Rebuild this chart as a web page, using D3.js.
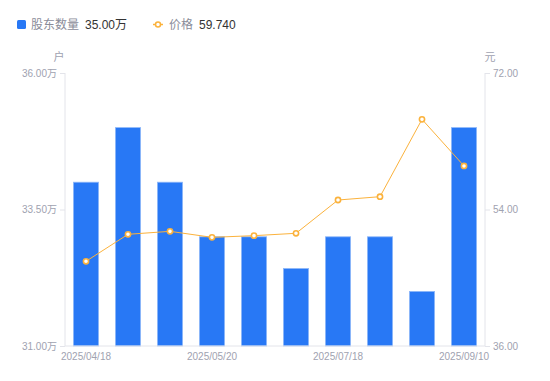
<!DOCTYPE html>
<html><head><meta charset="utf-8">
<script src="https://cdn.jsdelivr.net/npm/d3@7/dist/d3.min.js"></script>
<style>body{margin:0;background:#fff;font-family:"Noto Sans CJK SC","Noto Sans",sans-serif;}</style>
</head><body><svg id="c" width="550" height="381"></svg>
<script>
const categories = ["2025/04/18","2025/04/30","2025/05/09","2025/05/20","2025/06/10","2025/06/30","2025/07/18","2025/07/31","2025/08/20","2025/09/10"];
const holders = [34.00, 35.00, 34.00, 33.00, 33.00, 32.42, 33.00, 33.00, 32.00, 35.00];
const prices = [47.17, 50.73, 51.12, 50.33, 50.55, 50.86, 55.25, 55.69, 65.89, 59.74];
const leftTicks = [31, 33.5, 36];
const rightTicks = [36, 54, 72];
const shownLabels = ["2025/04/18","2025/05/20","2025/07/18","2025/09/10"];

const svg = d3.select("#c");
const L = 65, R = 485, T = 73, B = 346;
const x = d3.scaleBand().domain(categories).range([L, R]).paddingInner(0.4).paddingOuter(0.2);
const yL = d3.scaleLinear().domain([31, 36]).range([B, T]);
const yR = d3.scaleLinear().domain([36, 72]).range([B, T]);
const axisCol = "#e3e4ea", txtCol = "#a0a2b0";
const font = "'Liberation Sans', Arial, 'Noto Sans CJK SC', sans-serif";

// bars
svg.append("g").selectAll("rect").data(holders).join("rect")
  .attr("x", (d,i)=>x(categories[i]))
  .attr("y", d=>yL(d))
  .attr("width", x.bandwidth())
  .attr("height", d=>B - yL(d))
  .attr("fill", "#2878f5")
  .attr("stroke", "#8fb8f9").attr("stroke-width", 0.8);

// axes
const gl = svg.append("g").attr("transform", `translate(${L},0)`)
  .call(d3.axisLeft(yL).tickValues(leftTicks).tickSize(5).tickPadding(3).tickFormat(d=>d3.format(".2f")(d)+"万"));
const gr = svg.append("g").attr("transform", `translate(${R},0)`)
  .call(d3.axisRight(yR).tickValues(rightTicks).tickSize(5).tickPadding(3).tickFormat(d3.format(".2f")));
const gb = svg.append("g").attr("transform", `translate(0,${B})`)
  .call(d3.axisBottom(x).tickValues(shownLabels).tickSize(0).tickPadding(7));
[gl, gr, gb].forEach(g=>{
  g.select(".domain").attr("stroke", axisCol);
  g.selectAll(".tick line").attr("stroke", axisCol);
  g.selectAll(".tick text").attr("fill", txtCol).style("font-family", font).style("font-size", "10px");
});
gl.select(".domain").attr("d", `M0,${T}V${B}`);
gr.select(".domain").attr("d", `M0,${T}V${B}`);
gb.select(".domain").attr("d", `M${L},0H${R}`);

// unit labels
svg.append("text").attr("x", 59).attr("y", 61).attr("text-anchor","middle").attr("fill", txtCol).style("font-size","11px").text("户");
svg.append("text").attr("x", 490).attr("y", 61).attr("text-anchor","middle").attr("fill", txtCol).style("font-size","11px").text("元");

// line
const lineCol = "#fbb23c";
const line = d3.line().x((d,i)=>x(categories[i]) + x.bandwidth()/2).y(d=>yR(d));
svg.append("path").datum(prices).attr("d", line).attr("fill","none").attr("stroke", lineCol).attr("stroke-width", 1);
svg.append("g").selectAll("circle").data(prices).join("circle")
  .attr("cx", (d,i)=>x(categories[i]) + x.bandwidth()/2)
  .attr("cy", d=>yR(d)).attr("r", 2.6)
  .attr("fill", "#fff").attr("stroke", lineCol).attr("stroke-width", 1.6);

// legend
const lg = svg.append("g");
lg.append("rect").attr("x", 17).attr("y", 20).attr("width", 9).attr("height", 9).attr("rx", 1.5).attr("fill", "#2878f5");
lg.append("text").attr("x", 31).attr("y", 29).attr("fill", "#8a8c99").style("font-size","12px").text("股东数量");
lg.append("text").attr("x", 85).attr("y", 29).attr("fill", "#333").style("font-family", font).style("font-size","12px").text(d3.format(".2f")(holders[holders.length-1])+"万");
lg.append("line").attr("x1", 153).attr("x2", 163).attr("y1", 24.5).attr("y2", 24.5).attr("stroke", lineCol).attr("stroke-width", 1.5);
lg.append("circle").attr("cx", 158).attr("cy", 24.5).attr("r", 2.5).attr("fill", "#fff").attr("stroke", lineCol).attr("stroke-width", 1.5);
lg.append("text").attr("x", 169).attr("y", 29).attr("fill", "#8a8c99").style("font-size","12px").text("价格");
lg.append("text").attr("x", 199).attr("y", 29).attr("fill", "#333").style("font-family", font).style("font-size","12px").text(d3.format(".3f")(prices[prices.length-1]));
</script></body></html>
